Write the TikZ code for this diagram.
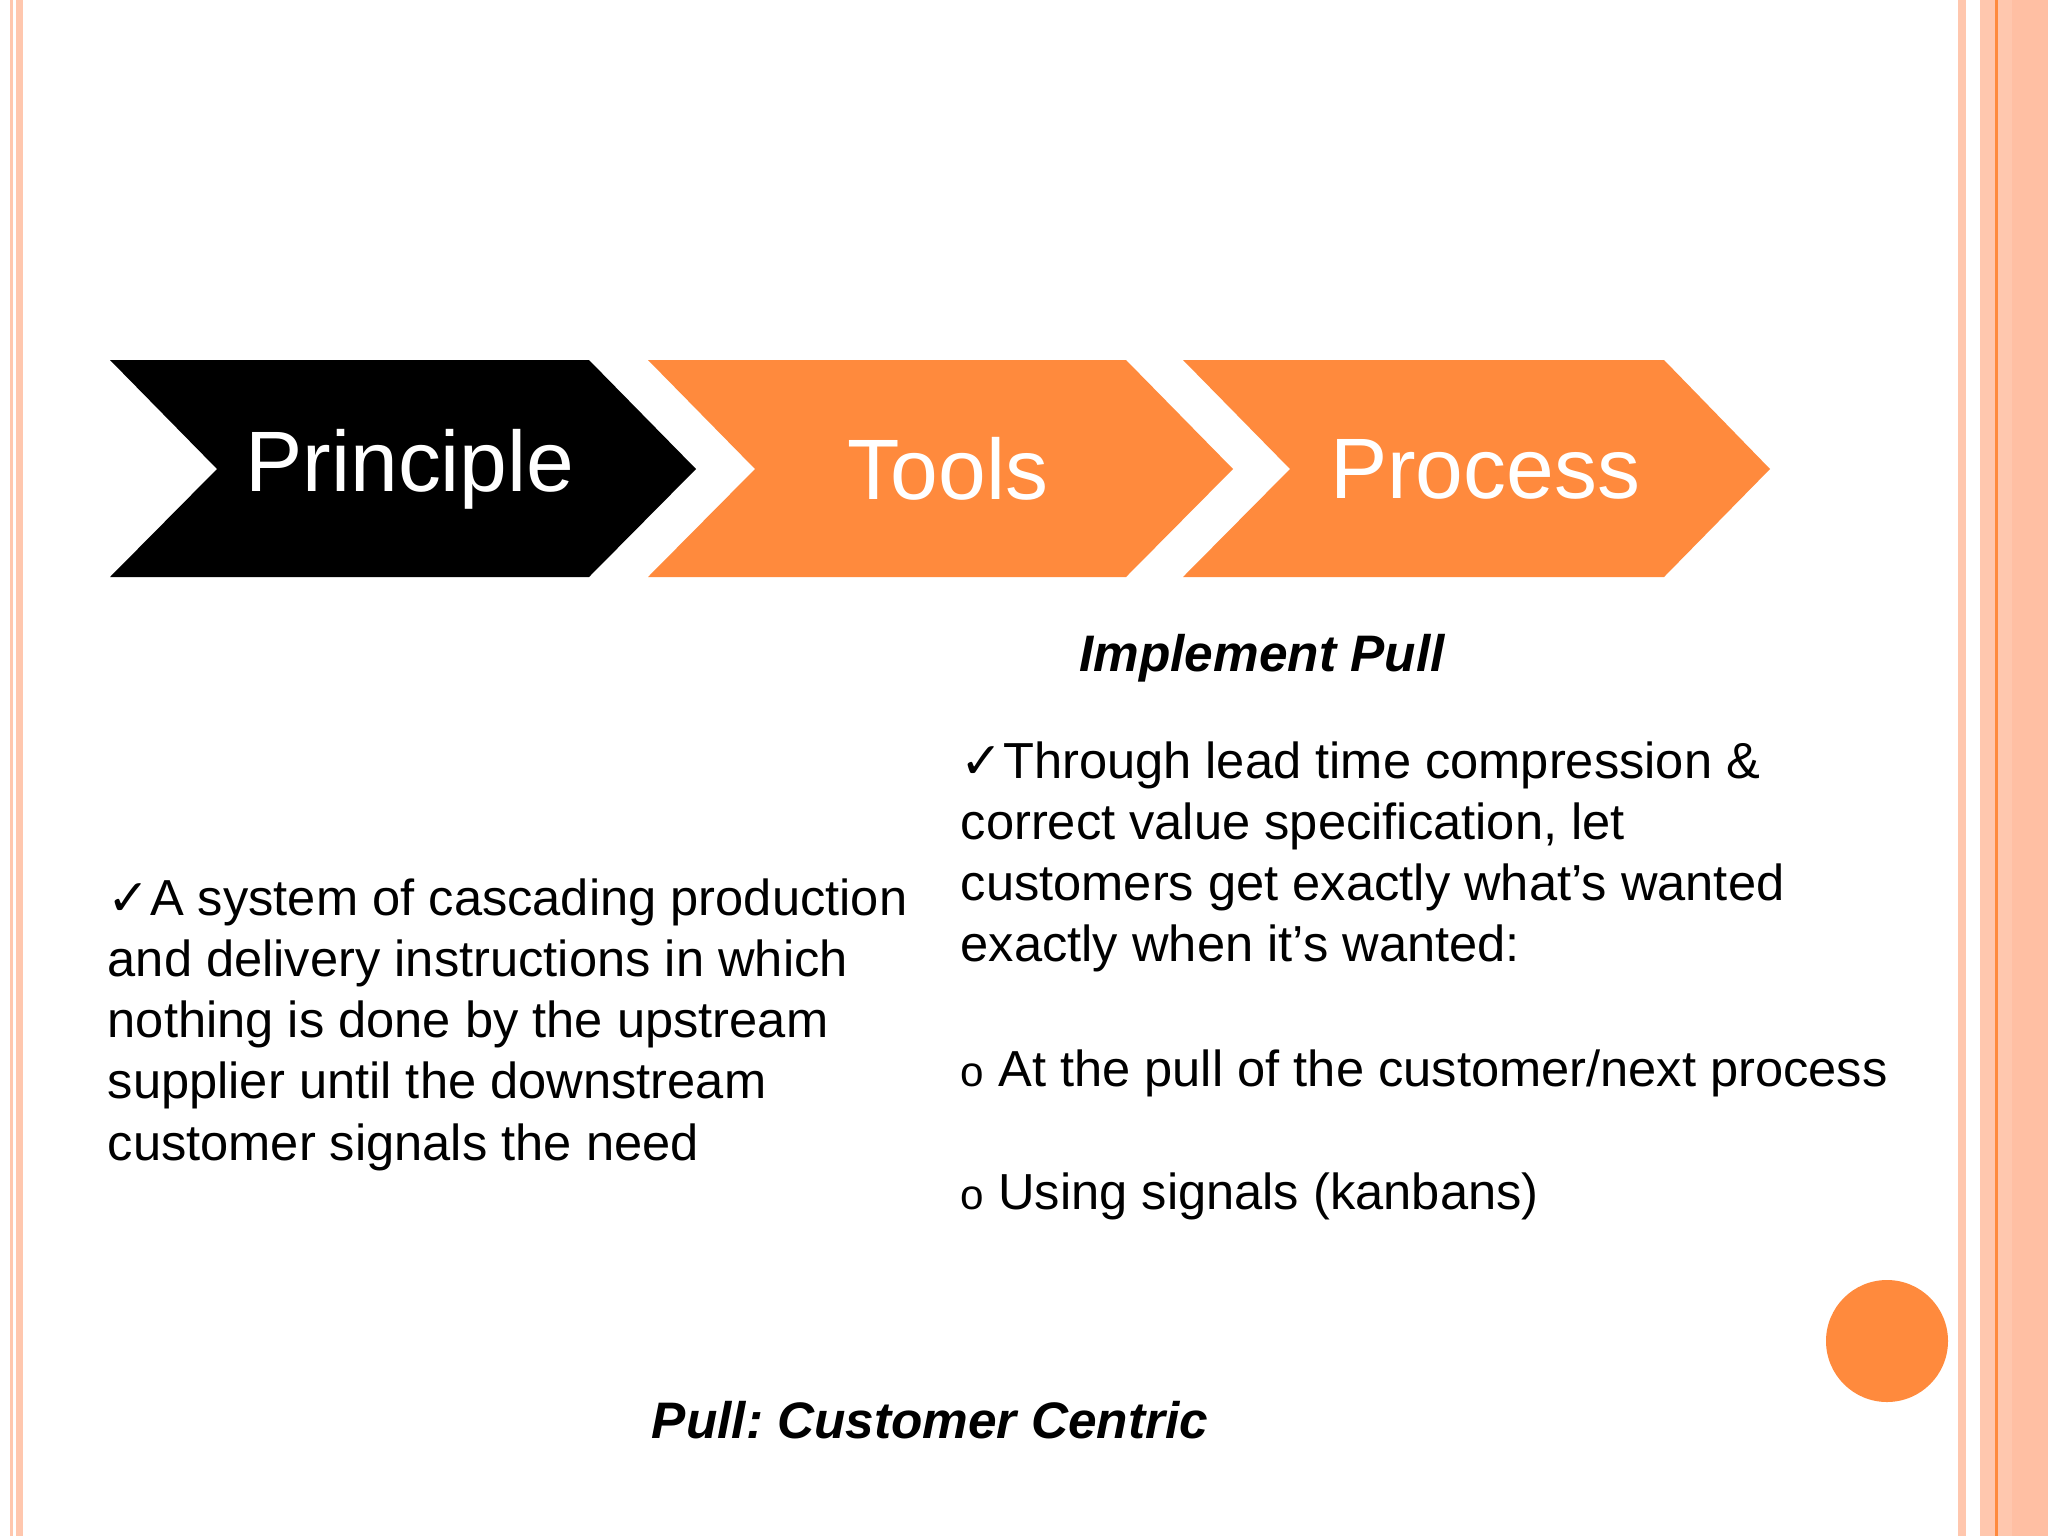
\documentclass[tikz,border=0pt]{standalone}
\usepackage{fontspec}
\setmainfont{Liberation Sans}
\newfontfamily\djv{DejaVu Sans}
\definecolor{org}{HTML}{FF8A3D}
\definecolor{salm}{HTML}{FFC7AE}
\definecolor{salm2}{HTML}{FFBFA3}
\definecolor{dorg}{HTML}{FF8A3D}
\newcommand{\ck}{{\djv\char"2713}}
\frenchspacing
\begin{document}
\begin{tikzpicture}[x=0.01cm,y=-0.01cm,
  chev/.style={draw=none},
  lbl/.style={text=white,font=\fontsize{24.4}{29}\selectfont},
  body/.style={anchor=north west,inner sep=0pt,align=left,font=\fontsize{14.4}{17.4}\selectfont},
  bi/.style={font=\fontsize{14.6}{17}\selectfont\bfseries\itshape,inner sep=0pt}]
\useasboundingbox (0,0) rectangle (2048,1536);
\fill[white] (0,0) rectangle (2048,1536);
% borders
\fill[salm] (10,0) rectangle (13,1536);
\fill[salm] (16,0) rectangle (23,1536);
\fill[salm] (1958,0) rectangle (1966,1536);
\fill[salm] (1980,0) rectangle (2048,1536);
\fill[salm2] (2012,0) rectangle (2048,1536);
\fill[dorg] (1995,0) rectangle (1998,1536);
% chevrons
\fill[black] (110,360) -- (589,360) -- (696,469) -- (589,577) -- (110,577) -- (217,469) -- cycle;
\fill[org] (648,360) -- (1126,360) -- (1233,469) -- (1126,577) -- (648,577) -- (755,469) -- cycle;
\fill[org] (1183,360) -- (1664,360) -- (1770,469) -- (1664,577) -- (1183,577) -- (1290,469) -- cycle;
\node[lbl] (p) at (410,469) {Principle};
\node[lbl] (t) at (948,469) {Tools};
\node[lbl] (r) at (1485,469) {Process};
\node[bi,anchor=base] (ip) at (1262,671) {Implement Pull};
\node[body] (lt) at (107,878) {\ck A system of cascading production\\and delivery instructions in which\\nothing is done by the upstream\\supplier until the downstream\\customer signals the need};
\node[body] (rt) at (960,741) {\ck Through lead time compression \&\\correct value specification, let\\customers get exactly what’s wanted\\exactly when it’s wanted:};
\node[body] (b1) at (960,1049) {{\fontsize{12}{14}\selectfont o} At the pull of the customer/next process};
\node[body] (b2) at (960,1172) {{\fontsize{12}{14}\selectfont o} Using signals (kanbans)};
\node[bi,anchor=base] (ft) at (930,1438) {Pull: Customer Centric};
\fill[org] (1887,1341) circle (61);
\end{tikzpicture}
\end{document}
